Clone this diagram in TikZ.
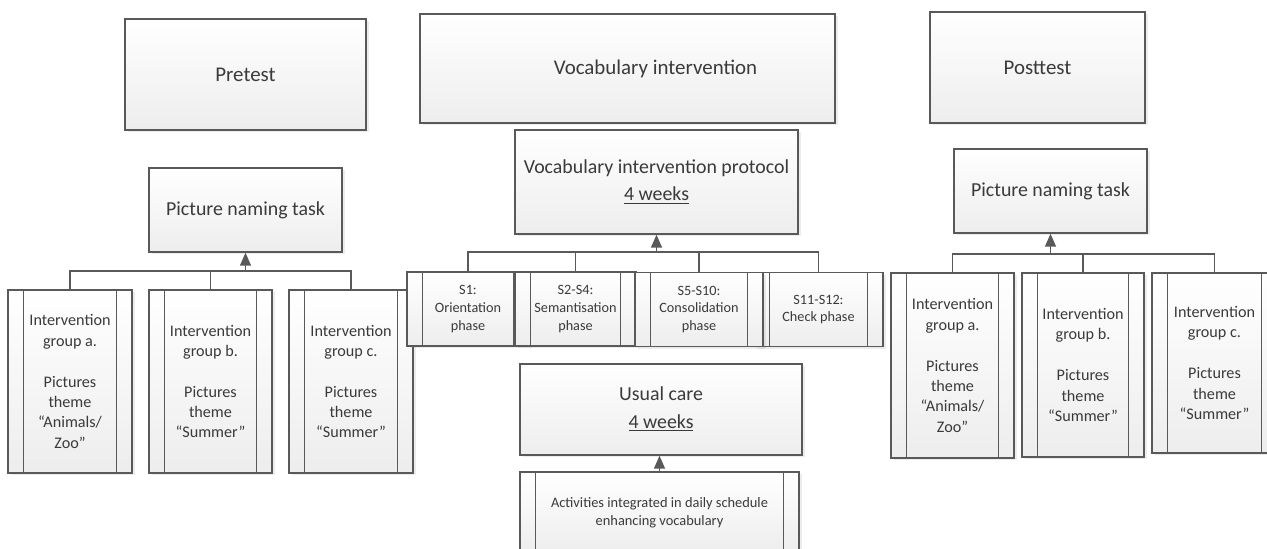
\documentclass[tikz,border=0pt]{standalone}
\usepackage{fontspec}
\setmainfont{Carlito}
\usetikzlibrary{arrows.meta, shadows}

\definecolor{edge}{HTML}{595959}
\definecolor{ink}{HTML}{3A3A3A}

\begin{document}
\begin{tikzpicture}[line width=0.8pt, color=edge, text=ink,
  box/.style={draw=edge, top color=white, bottom color=black!7,
    drop shadow={shadow xshift=0.05cm, shadow yshift=-0.05cm, opacity=0.15},
    inner sep=2pt, align=center},
  proc/.style={box, path picture={
    \draw[edge] ([xshift=0.31cm]path picture bounding box.north west)
      -- ([xshift=0.31cm]path picture bounding box.south west);
    \draw[edge] ([xshift=-0.31cm]path picture bounding box.north east)
      -- ([xshift=-0.31cm]path picture bounding box.south east);}},
  big/.style={font=\fontsize{11.9}{14.5}\selectfont},
  mid/.style={font=\fontsize{11.3}{15.5}\selectfont},
  grp/.style={proc, minimum width=2.48cm, minimum height=3.66cm,
    font=\fontsize{9.2}{11.6}\selectfont},
  phase/.style={proc, minimum height=1.48cm, font=\fontsize{8.1}{10.2}\selectfont},
  arr/.style={draw=edge, -{Triangle[width=0.22cm, length=0.26cm]}}]
  \useasboundingbox (0,0) rectangle (25.34,-10.98);

  % 三个阶段
  \node[box, big, minimum width=4.82cm, minimum height=2.22cm] (pre) at (4.91,-1.49) {Pretest};
  \node[box, minimum width=8.30cm, minimum height=2.18cm] (vi) at (12.55,-1.37) {};
  \node[big] (vit) at ([xshift=0.56cm]vi.center) {Vocabulary intervention};
  \node[box, big, minimum width=4.30cm, minimum height=2.22cm] (post) at (20.75,-1.35) {Posttest};

  % 前测
  \node[box, mid, minimum width=3.86cm, minimum height=1.68cm] (pnl) at (4.91,-4.20) {Picture naming task};
  \node[grp] (gal) at (1.40,-7.63) {Intervention\\group a.\\[11.6pt]Pictures\\theme\\“Animals/\\Zoo”};
  \node[grp, minimum width=2.46cm] (gbl) at (4.21,-7.63) {Intervention\\group b.\\[11.6pt]Pictures\\theme\\“Summer”};
  \node[grp] (gcl) at (7.02,-7.63) {Intervention\\group c.\\[11.6pt]Pictures\\theme\\“Summer”};

  \coordinate (busl) at (0,-5.42);
  \draw (gal.north) |- (busl -| gcl.north) -- (gcl.north);
  \draw (gbl.north) -- (gbl.north |- busl);
  \draw[arr] (pnl.south |- busl) -- (pnl.south);

  % 干预
  \node[box, mid, minimum width=5.66cm, minimum height=2.08cm] (prot) at (13.13,-3.64)
    {Vocabulary intervention protocol\\\underline{4 weeks}};
  \node[phase, minimum width=2.44cm] (s1) at (9.36,-6.18) {S1:\\Orientation\\phase};
  \node[phase, minimum width=2.42cm] (s2) at (11.51,-6.18) {S2-S4:\\Semantisation\\phase};
  \node[phase, minimum width=2.58cm] (s4) at (16.37,-6.19) {S11-S12:\\Check phase};
  \node[phase, minimum width=2.56cm] (s3) at (13.98,-6.19) {S5-S10:\\Consolidation\\phase};

  \coordinate (busm) at (0,-5.04);
  \draw (s1.north) |- (busm -| s4.north) -- (s4.north);
  \draw (s2.north) -- (s2.north |- busm);
  \draw (s3.north) -- (s3.north |- busm);
  \draw[arr] (prot.south |- busm) -- (prot.south);

  \node[box, mid, minimum width=5.64cm, minimum height=1.82cm] (uc) at (13.22,-8.19)
    {Usual care\\\underline{4 weeks}};
  \node[proc, font=\fontsize{8.2}{10.2}\selectfont, minimum width=5.58cm, minimum height=1.62cm]
    (act) at (13.19,-10.25) {Activities integrated in daily schedule\\enhancing vocabulary};
  \draw[arr] (act.north) -- (act.north |- uc.south);

  % 后测
  \node[box, mid, minimum width=3.86cm, minimum height=1.68cm] (pnr) at (21.01,-3.82) {Picture naming task};
  \node[grp, minimum width=2.46cm, minimum height=3.70cm] (gar) at (19.05,-7.31) {Intervention\\group a.\\[11.6pt]Pictures\\theme\\“Animals/\\Zoo”};
  \node[grp, minimum width=2.44cm, minimum height=3.68cm] (gbr) at (21.66,-7.30) {Intervention\\group b.\\[11.6pt]Pictures\\theme\\“Summer”};
  \node[grp, minimum width=2.50cm, minimum height=3.60cm] (gcr) at (24.29,-7.26) {Intervention\\group c.\\[11.6pt]Pictures\\theme\\“Summer”};

  \coordinate (busr) at (0,-5.08);
  \draw (gar.north) |- (busr -| gcr.north) -- (gcr.north);
  \draw (gbr.north) -- (gbr.north |- busr);
  \draw[arr] (pnr.south |- busr) -- (pnr.south);
\end{tikzpicture}
\end{document}
